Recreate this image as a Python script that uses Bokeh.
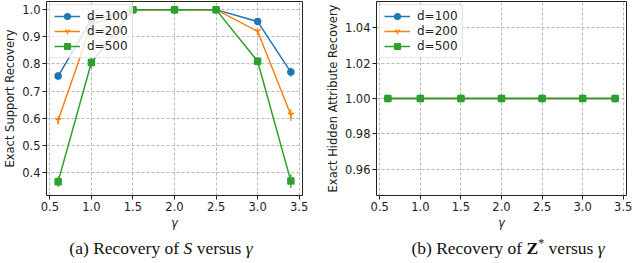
from bokeh.plotting import figure
from bokeh.layouts import row, column
from bokeh.models import Div, Legend, LegendItem, FixedTicker, NumeralTickFormatter, Range1d, ColumnDataSource
from bokeh.embed import file_html
from bokeh.resources import INLINE

# ---------------- data ----------------
gamma = [0.6, 1.0, 1.5, 2.0, 2.5, 3.0, 3.4]
labels = ["d=100", "d=200", "d=500"]
colors = ["#1f77b4", "#ff7f0e", "#2ca02c"]
markers = ["circle", "y", "square"]

support_d100 = [0.755, 0.962, 1.0, 1.0, 1.0, 0.956, 0.770]
support_d200 = [0.592, 0.945, 1.0, 1.0, 1.0, 0.920, 0.612]
support_d500 = [0.366, 0.805, 1.0, 1.0, 1.0, 0.810, 0.368]
support_err_d100 = [0.015, 0.010, 0.0, 0.0, 0.0, 0.008, 0.017]
support_err_d200 = [0.016, 0.012, 0.0, 0.0, 0.0, 0.012, 0.022]
support_err_d500 = [0.020, 0.020, 0.0, 0.0, 0.0, 0.015, 0.025]

hidden_d100 = [1.0, 1.0, 1.0, 1.0, 1.0, 1.0, 1.0]
hidden_d200 = [1.0, 1.0, 1.0, 1.0, 1.0, 1.0, 1.0]
hidden_d500 = [1.0, 1.0, 1.0, 1.0, 1.0, 1.0, 1.0]
hidden_err = [0.0, 0.0, 0.0, 0.0, 0.0, 0.0, 0.0]

x_ticks = [0.5, 1.0, 1.5, 2.0, 2.5, 3.0, 3.5]
support_yticks = [0.4, 0.5, 0.6, 0.7, 0.8, 0.9, 1.0]
hidden_yticks = [0.96, 0.98, 1.00, 1.02, 1.04]

FONT = "DejaVu Sans"


def make_panel(series, errs, yrange, yticks, yfmt, ylabel, width, min_left, min_right):
    p = figure(width=width, height=232, output_backend="svg", toolbar_location=None,
               x_range=Range1d(0.46, 3.54), y_range=Range1d(*yrange),
               min_border_top=1, min_border_left=min_left, min_border_right=min_right,
               min_border_bottom=20)
    p.background_fill_color = "white"
    p.outline_line_color = "#222222"
    p.outline_line_width = 1
    for ax in (p.xaxis[0], p.yaxis[0]):
        ax.axis_line_color = None
        ax.major_tick_line_color = "#222222"
        ax.major_tick_out = 4
        ax.major_tick_in = 0
        ax.minor_tick_line_color = None
        ax.major_label_text_font = FONT
        ax.major_label_text_font_size = "11.5px"
        ax.major_label_text_color = "#222222"
        ax.axis_label_text_font = FONT
        ax.axis_label_text_font_size = "11.5px"
        ax.axis_label_text_font_style = "normal"
        ax.axis_label_text_color = "#222222"
        ax.major_label_standoff = 2
        ax.axis_label_standoff = 2
    p.xaxis.ticker = FixedTicker(ticks=x_ticks)
    p.yaxis.ticker = FixedTicker(ticks=yticks)
    p.xaxis.formatter = NumeralTickFormatter(format="0.0")
    p.yaxis.formatter = NumeralTickFormatter(format=yfmt)
    p.xaxis.axis_label = "γ"
    p.xaxis.axis_label_text_font_style = "italic"
    p.yaxis.axis_label = ylabel
    p.grid.grid_line_color = "#b8b8b8"
    p.grid.grid_line_dash = "3 2"
    p.grid.grid_line_width = 1

    items = []
    for ys, er, lab, col, mk in zip(series, errs, labels, colors, markers):
        src = ColumnDataSource(dict(x=gamma, y=ys,
                                    lo=[a - b for a, b in zip(ys, er)],
                                    hi=[a + b for a, b in zip(ys, er)]))
        ln = p.line("x", "y", source=src, line_color=col, line_width=1.5)
        eb = p.segment(x0="x", y0="lo", x1="x", y1="hi", source=src,
                       line_color=col, line_width=1.5, line_alpha=0.8)
        sc = p.scatter("x", "y", source=src, marker=mk, size=7 if mk == "y" else 6,
                       fill_color=col, line_color=col, line_width=1.5)
        items.append(LegendItem(label=lab, renderers=[ln, sc]))
    leg = Legend(items=items, location="top_left")
    leg.label_text_font = FONT
    leg.label_text_font_size = "12px"
    leg.label_text_color = "#222222"
    leg.background_fill_alpha = 0.8
    leg.border_line_color = "#cccccc"
    leg.border_line_width = 1
    leg.border_radius = 3
    leg.glyph_width = 26
    leg.glyph_height = 14
    leg.label_height = 14
    leg.spacing = 1
    leg.padding = 4
    leg.margin = 3
    leg.label_standoff = 7
    p.add_layout(leg)
    return p


p1 = make_panel([support_d100, support_d200, support_d500],
                [support_err_d100, support_err_d200, support_err_d500],
                (0.315, 1.03), support_yticks, "0.0", "Exact Support Recovery",
                312, 30, 10)
p2 = make_panel([hidden_d100, hidden_d200, hidden_d500],
                [hidden_err, hidden_err, hidden_err],
                (0.945, 1.055), hidden_yticks, "0.00", "Exact Hidden Attribute Recovery",
                312, 54, 8)

cap_style = {"text-align": "center", "font-family": "Liberation Serif", "font-size": "17.5px",
             "line-height": "15px", "color": "#111111", "white-space": "nowrap",
             "position": "relative", "top": "4px"}
cap1 = Div(text="(a) Recovery of <i>S</i> versus <i>γ</i>", width=312, height=15,
           styles=cap_style)
cap2 = Div(text="(b) Recovery of <b>Z</b><sup style='font-size:12px'>*</sup> versus <i>γ</i>",
           width=252, height=15, styles=cap_style, margin=(0, 0, 0, 60))

layout = row(column(p1, cap1), column(p2, cap2))

open("out.html", "w").write(file_html(layout, INLINE))
